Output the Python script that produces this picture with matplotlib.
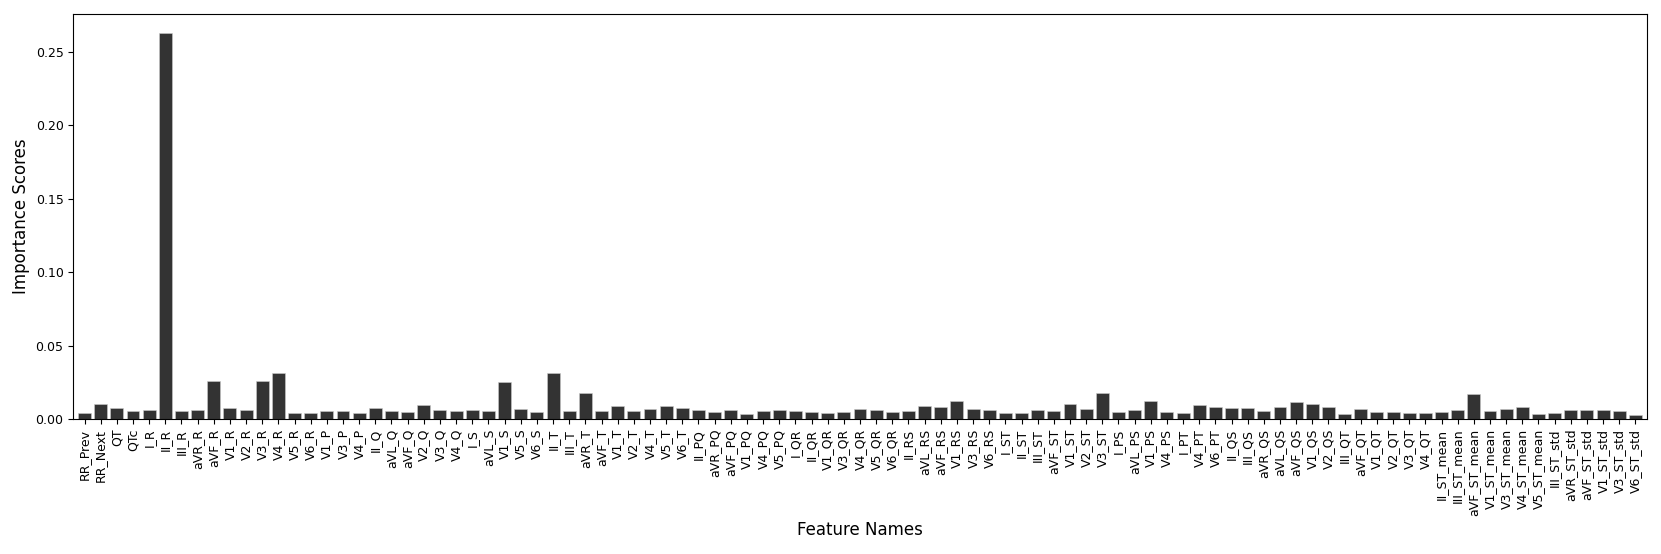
import matplotlib
matplotlib.use("Agg")
import matplotlib.pyplot as plt

feature_names = [
    "RR_Prev", "RR_Next", "QT", "QTc", "I_R", "II_R", "III_R", "aVR_R", "aVF_R",
    "V1_R", "V2_R", "V3_R", "V4_R", "V5_R", "V6_R", "V1_P", "V3_P", "V4_P",
    "II_Q", "aVL_Q", "aVF_Q", "V2_Q", "V3_Q", "V4_Q", "I_S", "aVL_S", "V1_S",
    "V5_S", "V6_S", "II_T", "III_T", "aVR_T", "aVF_T", "V1_T", "V2_T", "V4_T",
    "V5_T", "V6_T", "II_PQ", "aVR_PQ", "aVF_PQ", "V1_PQ", "V4_PQ", "V5_PQ",
    "I_QR", "II_QR", "V1_QR", "V3_QR", "V4_QR", "V5_QR", "V6_QR", "II_RS",
    "aVL_RS", "aVF_RS", "V1_RS", "V3_RS", "V6_RS", "I_ST", "II_ST", "III_ST",
    "aVF_ST", "V1_ST", "V2_ST", "V3_ST", "I_PS", "aVL_PS", "V1_PS", "V4_PS",
    "I_PT", "V4_PT", "V6_PT", "II_QS", "III_QS", "aVR_QS", "aVL_QS", "aVF_QS",
    "V1_QS", "V2_QS", "III_QT", "aVF_QT", "V1_QT", "V2_QT", "V3_QT", "V4_QT",
    "II_ST_mean", "III_ST_mean", "aVF_ST_mean", "V1_ST_mean", "V3_ST_mean",
    "V4_ST_mean", "V5_ST_mean", "III_ST_std", "aVR_ST_std", "aVF_ST_std",
    "V1_ST_std", "V3_ST_std", "V6_ST_std",
]

importance = [
    0.0039, 0.0102, 0.0073, 0.0054, 0.0059, 0.2627, 0.0054, 0.0059, 0.0256,
    0.0073, 0.0059, 0.0259, 0.0313, 0.0039, 0.0043, 0.0054, 0.0054, 0.0039,
    0.0075, 0.0052, 0.0050, 0.0093, 0.0064, 0.0057, 0.0064, 0.0052, 0.0250,
    0.0066, 0.0048, 0.0316, 0.0054, 0.0177, 0.0054, 0.0091, 0.0054, 0.0066,
    0.0089, 0.0075, 0.0061, 0.0048, 0.0061, 0.0036, 0.0054, 0.0059,
    0.0054, 0.0048, 0.0043, 0.0048, 0.0068, 0.0059, 0.0045, 0.0054,
    0.0086, 0.0084, 0.0125, 0.0068, 0.0061, 0.0039, 0.0039, 0.0059,
    0.0057, 0.0102, 0.0068, 0.0177, 0.0050, 0.0061, 0.0120, 0.0045,
    0.0041, 0.0098, 0.0080, 0.0077, 0.0073, 0.0052, 0.0082, 0.0116,
    0.0102, 0.0082, 0.0036, 0.0068, 0.0045, 0.0048, 0.0043, 0.0043,
    0.0050, 0.0064, 0.0173, 0.0054, 0.0070,
    0.0080, 0.0036, 0.0039, 0.0061, 0.0064,
    0.0059, 0.0054, 0.0027,
]

fig = plt.figure(figsize=(16.61, 5.54), dpi=100)
ax = fig.add_axes([0.0441, 0.2437, 0.9473, 0.7313])

x = range(len(feature_names))
ax.bar(x, importance, width=0.8, color="#333333", edgecolor="#cccccc", linewidth=0.4)

ax.set_xticks(list(x))
ax.set_xticklabels(feature_names, rotation=90, fontsize=9)
ax.tick_params(axis="y", labelsize=9)
ax.set_xlim(-0.7, len(feature_names) - 0.3)
ax.set_xlabel("Feature Names", fontsize=12)
ax.set_ylabel("Importance Scores", fontsize=12)

fig.savefig("out.png", dpi=100)
